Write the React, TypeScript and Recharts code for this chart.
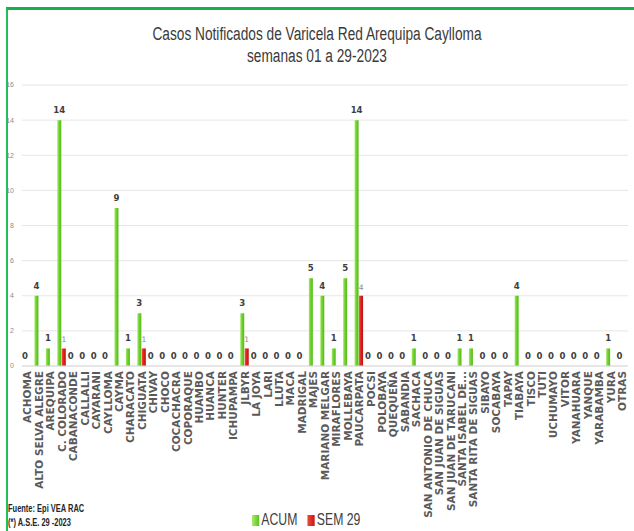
import React from "react";
import { BarChart, Bar, XAxis, YAxis, CartesianGrid, LabelList } from "recharts";

const categories = [
  "ACHOMA", "ALTO SELVA ALEGRE", "AREQUIPA", "C. COLORADO", "CABANACONDE", "CALLALLI", "CAYARANI",
  "CAYLLOMA", "CAYMA", "CHARACATO", "CHIGUATA", "CHIVAY", "CHOCO", "COCACHACRA", "COPORAQUE",
  "HUAMBO", "HUANCA", "HUNTER", "ICHUPAMPA", "JLBYR", "LA JOYA", "LARI", "LLUTA", "MACA",
  "MADRIGAL", "MAJES", "MARIANO MELGAR", "MIRAFLORES", "MOLLEBAYA", "PAUCARPATA", "POCSI",
  "POLOBAYA", "QUEQUEÑA", "SABANDIA", "SACHACA", "SAN ANTONIO DE CHUCA", "SAN JUAN DE SIGUAS",
  "SAN JUAN DE TARUCANI", "SANTA ISABEL DE...", "SANTA RITA DE SIGUAS", "SIBAYO", "SOCABAYA",
  "TAPAY", "TIABAYA", "TISCO", "TUTI", "UCHUMAYO", "VITOR", "YANAHUARA", "YANQUE", "YARABAMBA",
  "YURA", "OTRAS",
];

const acum = [
  0, 4, 1, 14, 0, 0, 0,
  0, 9, 1, 3, 0, 0, 0, 0,
  0, 0, 0, 0, 3, 0, 0, 0, 0,
  0, 5, 4, 1, 5, 14, 0,
  0, 0, 0, 1, 0, 0,
  0, 1, 1, 0, 0,
  0, 4, 0, 0, 0, 0, 0, 0, 0,
  1, 0,
];

const sem29 = [
  0, 0, 0, 1, 0, 0, 0,
  0, 0, 0, 1, 0, 0, 0, 0,
  0, 0, 0, 0, 1, 0, 0, 0, 0,
  0, 0, 0, 0, 0, 4, 0,
  0, 0, 0, 0, 0, 0,
  0, 0, 0, 0, 0,
  0, 0, 0, 0, 0, 0, 0, 0, 0,
  0, 0,
];

const yTicks = [0, 2, 4, 6, 8, 10, 12, 14, 16];

const titleLines = ["Casos Notificados de Varicela Red Arequipa Caylloma", "semanas 01 a 29-2023"];
const footerLines = ["Fuente: Epi VEA RAC", "(*) A.S.E. 29 -2023"];
const seriesNames = { acum: "ACUM", sem: "SEM 29" };

const data = categories.map((name, i) => ({ name, acum: acum[i], sem: sem29[i] }));

const SANS = "'Liberation Sans', Arial, sans-serif";

const XTick = (props: any) => {
  const { x, y, payload } = props;
  const ax = x;
  const ay = y + 5;
  return (
    <text
      x={ax}
      y={ay}
      transform={`rotate(-90, ${ax}, ${ay})`}
      textAnchor="end"
      dy="0.36em"
      fontFamily="'DejaVu Sans', Verdana, sans-serif"
      fontWeight="bold"
      fontSize={10.5}
      fill="#5a5a5a"
    >
      {payload.value}
    </text>
  );
};

const semLabel = (props: any) => {
  const { x, y, width, value } = props;
  if (!value) return null;
  return (
    <text x={x + width / 2} y={y - 6} textAnchor="middle" fontSize={7.5} fill="#8c8c8c" fontFamily="'DejaVu Sans', sans-serif">
      {value}
    </text>
  );
};

const acumLabel = (props: any) => {
  const { x, y, width, height, value } = props;
  const top = Math.min(y, y + height);
  return (
    <text x={x + width / 2} y={top - 7} textAnchor="middle" fontSize={9.5} fontWeight="bold" fill="#404040" fontFamily="'DejaVu Sans Condensed', 'DejaVu Sans', sans-serif">
      {String(value)}
    </text>
  );
};

export default function App() {
  return (
    <div style={{ position: "absolute", left: 0, top: 0, width: 634, height: 531, background: "#fff", overflow: "hidden" }}>
      <div
        style={{
          position: "absolute",
          left: 6,
          top: 7,
          right: -10,
          bottom: -10,
          borderTop: "3px solid #14b04c",
          borderLeft: "2px solid #22bf58",
        }}
      />
      <div
        style={{
          position: "absolute",
          left: 0,
          width: 634,
          top: 23,
          textAlign: "center",
          fontFamily: SANS,
          fontSize: 18,
          lineHeight: "22px",
          color: "#3a3a3a",
          transform: "scaleX(0.76)",
          transformOrigin: "317px 0",
        }}
      >
        {titleLines.map((t) => (
          <div key={t}>{t}</div>
        ))}
      </div>
      <BarChart
        width={634}
        height={531}
        data={data}
        margin={{ top: 85, right: 6, bottom: 5, left: 6 }}
        barSize={4}
        barGap={0.5}
        style={{ position: "absolute", left: 0, top: 0 }}
      >
        <defs>
          <linearGradient id="gGreen" x1="0" y1="0" x2="1" y2="0">
            <stop offset="0%" stopColor="#a5e86a" />
            <stop offset="45%" stopColor="#6fd22e" />
            <stop offset="100%" stopColor="#56b81c" />
          </linearGradient>
          <linearGradient id="gRed" x1="0" y1="0" x2="1" y2="0">
            <stop offset="0%" stopColor="#f24a3c" />
            <stop offset="50%" stopColor="#e0201a" />
            <stop offset="100%" stopColor="#b81410" />
          </linearGradient>
        </defs>
        <CartesianGrid vertical={false} stroke="#e6e6e6" strokeWidth={1} />
        <XAxis
          dataKey="name"
          interval={0}
          height={160}
          tickLine={false}
          tickSize={0}
          tickMargin={0}
          axisLine={{ stroke: "#d9d9d9" }}
          tick={<XTick />}
        />
        <YAxis
          domain={[0, 16]}
          ticks={yTicks}
          width={16}
          axisLine={false}
          tickLine={false}
          tickMargin={2}
          tick={{ fontSize: 7, fill: "#8c8c8c", fontFamily: SANS }}
        />
        <Bar dataKey="acum" name={seriesNames.acum} fill="url(#gGreen)" minPointSize={0.01} isAnimationActive={false}>
          <LabelList dataKey="acum" content={acumLabel} />
        </Bar>
        <Bar dataKey="sem" name={seriesNames.sem} fill="url(#gRed)" isAnimationActive={false}>
          <LabelList dataKey="sem" content={semLabel} />
        </Bar>
      </BarChart>
      <div
        style={{
          position: "absolute",
          left: 252,
          top: 510,
          width: 160,
          display: "flex",
          alignItems: "center",
          fontFamily: SANS,
          fontSize: 17,
          color: "#404040",
          transform: "scaleX(0.72)",
          transformOrigin: "0 0",
          whiteSpace: "nowrap",
        }}
      >
        <span style={{ display: "inline-block", width: 10, height: 11, background: "linear-gradient(90deg,#a8ec6a,#5cc21f)", marginRight: 3 }} />
        <span style={{ marginRight: 14 }}>{seriesNames.acum}</span>
        <span style={{ display: "inline-block", width: 10, height: 11, background: "linear-gradient(90deg,#f04a3a,#c8150f)", marginRight: 3 }} />
        <span>{seriesNames.sem}</span>
      </div>
      <div
        style={{
          position: "absolute",
          left: 8,
          top: 501,
          fontFamily: SANS,
          fontSize: 11,
          fontWeight: "bold",
          lineHeight: "14px",
          color: "#262626",
          transform: "scaleX(0.68)",
          transformOrigin: "0 0",
          whiteSpace: "nowrap",
        }}
      >
        {footerLines.map((t) => (
          <div key={t}>{t}</div>
        ))}
      </div>
    </div>
  );
}
